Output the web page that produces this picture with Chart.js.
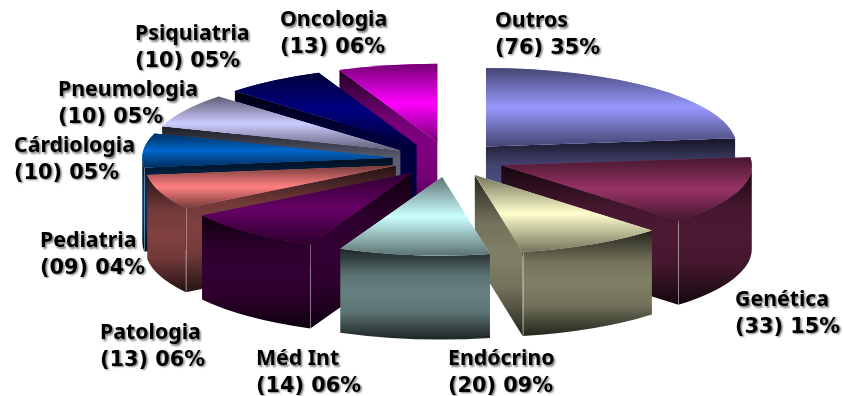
<!DOCTYPE html>
<html><head><meta charset="utf-8">
<style>html,body{margin:0;padding:0;background:#fff}canvas{display:block}</style>
<script src="https://cdn.jsdelivr.net/npm/chart.js@4"></script>
</head><body><canvas id="c" width="843" height="396"></canvas>
<script>
// Data
const categories = ['Outros','Genética','Endócrino','Méd Int','Patologia','Pediatria','Cárdiologia','Pneumologia','Psiquiatria','Oncologia'];
const counts = [76,33,20,14,13,9,10,10,10,13];
const percents = [35,15,9,6,6,4,5,5,5,6];
// Wedge sizes as they appear in the picture, in degrees
const wedgeSizes = [84,51,34,35,33,26,25,25.5,23.5,23];
const colors = ['#9999FF','#993366','#FFFFCC','#CCFFFF','#660066','#FF8080','#0066CC','#CCCCFF','#000080','#FF00FF'];

// Layout
const labelPos = [[495,27],[735,306],[448,365],[256,365],[100,339],[40,247],[14,152],[58,96],[135,40],[280,26]];
const view = {cx:448.5, cy:159.5, rx:250.5, ry:78.5, depth:84, explode:56};
const FONT_NAME = 'bold 21.3px "Noto Sans"';
const FONT_VALUE = 'bold 20.8px "DejaVu Sans"';
const LINE = 26.5;

function shade(hex,f){
  const n=parseInt(hex.slice(1),16);
  return `rgb(${Math.round((n>>16&255)*f)},${Math.round((n>>8&255)*f)},${Math.round((n&255)*f)})`;
}
function grad(ctx,y0,y1,hex,stops){
  const g=ctx.createLinearGradient(0,y0,0,y1);
  stops.forEach(s=>g.addColorStop(s[0],shade(hex,s[1])));
  return g;
}
const TOP=[[0,.45],[.5,1],[1,.45]];
const WALL=[[0,.14],[.3,.45],[.5,.5],[.7,.45],[1,.14]];

const pie3d={
  id:'pie3d',
  beforeDatasetsDraw(chart){
    const ctx=chart.ctx, arcs=chart.getDatasetMeta(0).data;
    const items=arcs.map((arc,i)=>{
      const p=arc.getProps(['x','y','startAngle','endAngle','outerRadius'],true);
      const mid=(p.startAngle+p.endAngle)/2;
      const ax=view.cx+Math.cos(mid)*view.explode;
      const ay=view.cy+Math.sin(mid)*view.explode*view.ry/view.rx;
      return {arc,p,i,ax,ay};
    }).sort((a,b)=>a.ay-b.ay);
    items.forEach(it=>{
      const {arc,p,i,ax,ay}=it, col=colors[i], d=view.depth;
      const pt=a=>[ax+Math.cos(a)*view.rx, ay+Math.sin(a)*view.ry];
      const [sx,sy]=pt(p.startAngle), [ex,ey]=pt(p.endAngle);
      const face=(x,y)=>{
        const t=Math.min(ay,y), b=Math.max(ay,y)+d;
        ctx.beginPath();ctx.moveTo(ax,ay);ctx.lineTo(x,y);ctx.lineTo(x,y+d);ctx.lineTo(ax,ay+d);ctx.closePath();
        ctx.fillStyle=grad(ctx,t,b,col,WALL);ctx.fill();
      };
      const startVisible=Math.cos(p.startAngle)<0, endVisible=Math.cos(p.endAngle)>0;
      if(startVisible) face(sx,sy);
      if(endVisible) face(ex,ey);
      const a0=Math.max(p.startAngle,0), a1=Math.min(p.endAngle,Math.PI);
      if(a1>a0){
        const [x0,y0]=pt(a0), [x1,y1]=pt(a1);
        const crossesFront=a0<Math.PI/2&&a1>Math.PI/2;
        let t=Math.min(y0,y1); if(crossesFront) t=Math.min(t,ay+view.ry);
        const b=Math.max(y0,y1,crossesFront?ay+view.ry:0)+d;
        ctx.beginPath();ctx.ellipse(ax,ay,view.rx,view.ry,0,a0,a1);
        ctx.lineTo(x1,y1+d);ctx.ellipse(ax,ay+d,view.rx,view.ry,0,a1,a0,true);ctx.closePath();
        ctx.fillStyle=grad(ctx,t,b,col,WALL);ctx.fill();
        // pale vertical seam where the cut face meets the outer wall
        const sc=startVisible?[x0,y0]:endVisible?[x1,y1]:null;
        if(sc){
          ctx.strokeStyle='rgba(255,255,255,.35)';ctx.lineWidth=1;
          ctx.beginPath();ctx.moveTo(Math.round(sc[0])+.5,sc[1]);ctx.lineTo(Math.round(sc[0])+.5,sc[1]+d);ctx.stroke();
        }
      }
      // top surface: the library's arc, squashed into the tilted plane
      ctx.save();
      ctx.translate(ax,ay);ctx.scale(view.rx/p.outerRadius,view.ry/p.outerRadius);ctx.translate(-p.x,-p.y);
      arc.draw(ctx);
      ctx.restore();
      let t=ay,b=ay;
      [[sx,sy],[ex,ey]].forEach(q=>{t=Math.min(t,q[1]);b=Math.max(b,q[1]);});
      const inRange=a=>{for(let k=-1;k<3;k++){const v=a+k*2*Math.PI;if(v>=p.startAngle&&v<=p.endAngle)return true;}return false;};
      if(inRange(-Math.PI/2))t=ay-view.ry;
      if(inRange(Math.PI/2))b=ay+view.ry;
      ctx.beginPath();ctx.moveTo(ax,ay);ctx.ellipse(ax,ay,view.rx,view.ry,0,p.startAngle,p.endAngle);ctx.closePath();
      ctx.fillStyle=grad(ctx,t,b,col,TOP);ctx.fill();
    });
    // labels
    ctx.save();ctx.textBaseline='alphabetic';ctx.textAlign='left';
    categories.forEach((name,i)=>{
      const [x,y]=labelPos[i];
      const l2=`(${String(counts[i]).padStart(2,'0')}) ${String(percents[i]).padStart(2,'0')}%`;
      ctx.shadowColor='rgba(0,0,0,.5)';ctx.shadowBlur=2;ctx.shadowOffsetX=1.5;ctx.shadowOffsetY=1.5;
      ctx.fillStyle='#000';
      ctx.font=FONT_NAME;ctx.fillText(name,x,y);
      ctx.font=FONT_VALUE;ctx.fillText(l2,x,y+LINE);
    });
    ctx.restore();
    return false;
  }
};

new Chart(document.getElementById('c'),{
  type:'pie',
  data:{labels:categories,datasets:[{data:wedgeSizes,backgroundColor:colors,borderWidth:0}]},
  options:{responsive:false,animation:false,devicePixelRatio:1,
    plugins:{legend:{display:false},tooltip:{enabled:false},title:{display:false}},events:[]},
  plugins:[pie3d]
});
</script></body></html>
